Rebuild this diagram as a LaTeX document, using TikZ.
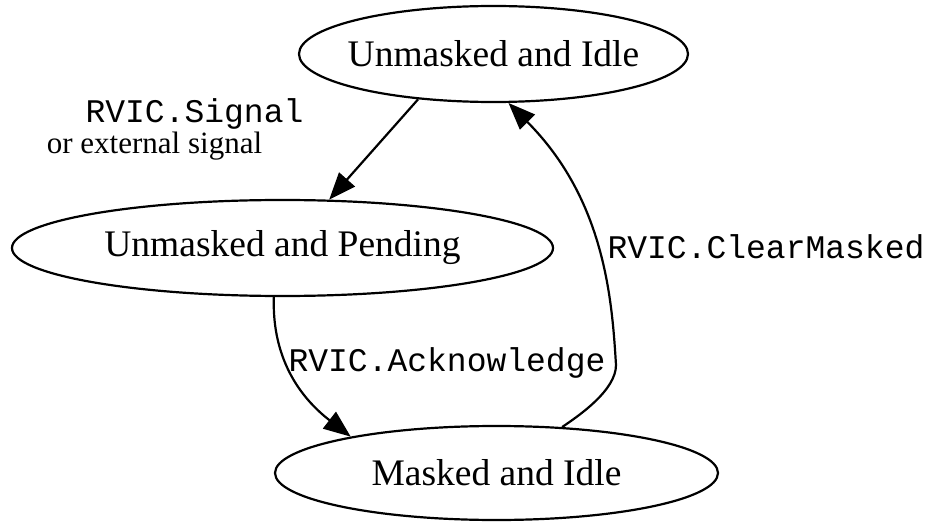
\documentclass[tikz,border=0pt]{standalone}
\usepackage{fontspec}
\setmainfont{Liberation Serif}
\setmonofont{Liberation Mono}
\usetikzlibrary{shapes.geometric,arrows.meta}
\tikzset{
  state/.style={ellipse, draw, line width=2.2pt, inner sep=0pt,
    minimum height=96pt, font=\fontsize{37.5}{45}\selectfont},
  arr/.style={line width=2.2pt, -{Triangle[length=27pt,width=21pt]}},
  mono/.style={font=\ttfamily\fontsize{33}{40}\selectfont, anchor=base, inner sep=0pt},
  serifsmall/.style={font=\fontsize{31}{37}\selectfont, anchor=base, inner sep=0pt}
}
\begin{document}
\begin{tikzpicture}[x=1pt,y=-1pt]
\fill[white] (0,0) rectangle (935,524);
\useasboundingbox (0,0) rectangle (935,524);

\node[state, minimum width=389pt] (n1) at (493.5,54) {\makebox[0pt]{Unmasked and Idle}};
\node[state, minimum width=541pt] (n2) at (282.5,248) {\makebox[0pt]{Unmasked and Pending}};
\node[state, minimum width=443pt, minimum height=94pt] (n3) at (496.5,473) {\makebox[0pt]{Masked and Idle}};

\draw[arr] (n1.211) -- (n2.46);
\draw[arr] (n2.260) .. controls (272,350) and (293,392) .. (n3.166);
\draw[arr] (n3.35) .. controls (580,415) and (616,390) .. (616,365)
  .. controls (612,300) and (605,200) .. (n1.287);

\node[mono] (l1) at (194.5,123) {RVIC.Signal};
\node[serifsmall] (l1b) at (154.5,154) {or external signal};
\node[mono] (l2) at (447,371) {RVIC.Acknowledge};
\node[mono] (l3) at (766,258) {RVIC.ClearMasked};
\end{tikzpicture}
\end{document}
